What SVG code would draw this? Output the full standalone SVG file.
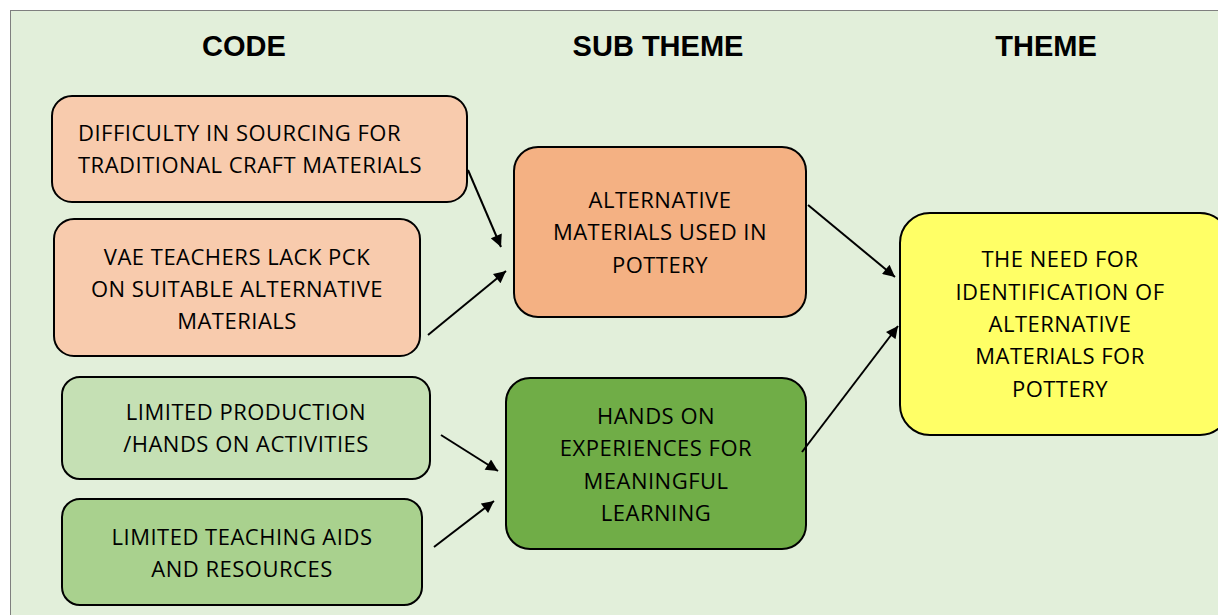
<svg xmlns="http://www.w3.org/2000/svg" width="1218" height="615" viewBox="0 0 1218 615">
<defs>
<marker id="ah" viewBox="0 0 10 10" refX="10" refY="5" markerWidth="13" markerHeight="12" markerUnits="userSpaceOnUse" orient="auto"><path d="M0,0 L10,5 L0,10 z" fill="#000"/></marker>
<style>
.hd{font-family:"Liberation Sans",Arial,sans-serif;font-weight:bold;font-size:29px;fill:#000;text-anchor:middle}
.t{font-family:"Open Sans","Noto Sans",sans-serif;font-size:22px;letter-spacing:0.5px;fill:#000;text-anchor:middle}
.tl{text-anchor:start}
.box{stroke:#000;stroke-width:2}
.c{stroke:#000;stroke-width:2;fill:none;marker-end:url(#ah)}
</style>
</defs>
<rect x="0" y="0" width="1218" height="615" fill="#fff"/>
<rect x="10.5" y="10.5" width="1220" height="620" fill="#E2EFDA" stroke="#7f7f7f" stroke-width="1"/>
<g id="headings">
<text class="hd" x="244" y="56">CODE</text>
<text class="hd" x="658" y="56">SUB THEME</text>
<text class="hd" x="1046" y="56">THEME</text>
</g>
<g id="n1"><rect class="box" x="52" y="96" width="415" height="106" rx="20" fill="#F8CBAD"/>
<text class="t tl" x="78" y="141">DIFFICULTY IN SOURCING FOR</text>
<text class="t tl" x="78" y="173">TRADITIONAL CRAFT MATERIALS</text></g>
<g id="n2"><rect class="box" x="54" y="219" width="366" height="137" rx="20" fill="#F8CBAD"/>
<text class="t" x="237" y="265">VAE TEACHERS LACK PCK</text>
<text class="t" x="237" y="297">ON SUITABLE ALTERNATIVE</text>
<text class="t" x="237" y="329">MATERIALS</text></g>
<g id="n3"><rect class="box" x="62" y="377" width="368" height="102" rx="18" fill="#C5E0B4"/>
<text class="t" x="246" y="420">LIMITED PRODUCTION</text>
<text class="t" x="246" y="452">/HANDS ON ACTIVITIES</text></g>
<g id="n4"><rect class="box" x="62" y="499" width="360" height="106" rx="18" fill="#A9D18E"/>
<text class="t" x="242" y="545">LIMITED TEACHING AIDS</text>
<text class="t" x="242" y="577">AND RESOURCES</text></g>
<g id="n5"><rect class="box" x="514" y="147" width="292" height="170" rx="24" fill="#F4B183"/>
<text class="t" x="660" y="208">ALTERNATIVE</text>
<text class="t" x="660" y="240">MATERIALS USED IN</text>
<text class="t" x="660" y="273">POTTERY</text></g>
<g id="n6"><rect class="box" x="506" y="378" width="300" height="171" rx="24" fill="#70AD47"/>
<text class="t" x="656" y="424">HANDS ON</text>
<text class="t" x="656" y="456">EXPERIENCES FOR</text>
<text class="t" x="656" y="489">MEANINGFUL</text>
<text class="t" x="656" y="521">LEARNING</text></g>
<g id="n7"><rect class="box" x="900" y="213" width="330" height="222" rx="30" fill="#FFFF66"/>
<text class="t" x="1060" y="267">THE NEED FOR</text>
<text class="t" x="1060" y="300">IDENTIFICATION OF</text>
<text class="t" x="1060" y="332">ALTERNATIVE</text>
<text class="t" x="1060" y="364">MATERIALS FOR</text>
<text class="t" x="1060" y="397">POTTERY</text></g>
<g id="connectors">
<line class="c" x1="468" y1="170" x2="501" y2="247"/>
<line class="c" x1="428" y1="335" x2="506" y2="271"/>
<line class="c" x1="441" y1="435" x2="498" y2="471"/>
<line class="c" x1="434" y1="547" x2="494" y2="501"/>
<line class="c" x1="808" y1="205" x2="895" y2="277"/>
<line class="c" x1="802" y1="452" x2="898" y2="326"/>
</g>
</svg>
